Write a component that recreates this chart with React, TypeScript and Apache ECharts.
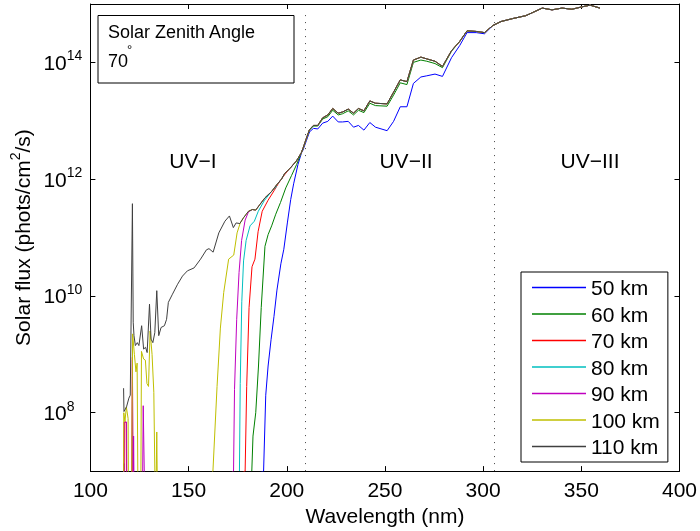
import React, { useEffect, useRef } from "react";
import * as echarts from "echarts";

// ---- data (log10 of solar flux, phots/cm^2/s) ----
const altitudes = ["50 km", "60 km", "70 km", "80 km", "90 km", "100 km", "110 km"];
const lineColors = ["#0000ff", "#008000", "#ff0000", "#00bfbf", "#bf00bf", "#bfbf00", "#404040"];
const yTickExponents = [8, 10, 12, 14];
const regionLabels = ["UV\u2212I", "UV\u2212II", "UV\u2212III"];
const regionBoundaries = [209.3, 305.7];

// upper envelope of UV-I (all altitudes converge)
const wavelengthUV1Top = [176.1, 178.0, 180.5, 182.5, 184.2, 186.4, 188.9, 192.3, 194.8, 197.3, 199.0, 201.5, 204.9, 207.4];
const logFluxUV1Top = [11.24, 11.34, 11.45, 11.48, 11.47, 11.57, 11.68, 11.79, 11.9, 12.0, 12.1, 12.18, 12.31, 12.45];

// UV-II / UV-III
const wavelengthUV2 = [208.3, 210.0, 211.6, 213.6, 215.8, 218.3, 220.9, 223.4, 226.2, 228.4, 231.3, 234.0, 236.5, 239.3, 242.3, 245.2, 251.1, 254.4, 257.8, 261.2, 264.5, 268.3, 271.3, 275.5, 279.3, 283.9, 288.1, 291.8, 296.5, 300.7, 304.9, 309.1, 315.0, 321.7, 325.0, 330.1, 335.1, 340.2, 345.2, 350.2, 354.5, 359.5];
const logFluxTopUV2 = [12.53, 12.7, 12.85, 12.92, 12.92, 13.05, 13.1, 13.21, 13.13, 13.15, 13.2, 13.13, 13.21, 13.17, 13.34, 13.3, 13.29, 13.49, 13.7, 13.67, 14.04, 14.09, 14.06, 14.02, 13.93, 14.2, 14.36, 14.54, 14.53, 14.51, 14.63, 14.7, 14.75, 14.8, 14.85, 14.93, 14.9, 14.93, 14.91, 14.95, 14.98, 14.93];
const logFlux60UV2 = [12.52, 12.69, 12.84, 12.91, 12.91, 13.03, 13.07, 13.18, 13.1, 13.12, 13.17, 13.1, 13.18, 13.14, 13.3, 13.26, 13.25, 13.44, 13.65, 13.62, 14.0, 14.04, 14.02, 13.98, 13.91, 14.19, 14.36, 14.54, 14.53, 14.51, 14.63, 14.7, 14.75, 14.8, 14.85, 14.93, 14.9, 14.93, 14.91, 14.95, 14.98, 14.93];
const logFlux50UV2 = [12.5, 12.66, 12.81, 12.87, 12.86, 12.96, 12.99, 13.08, 12.98, 12.98, 12.99, 12.89, 12.92, 12.84, 12.97, 12.89, 12.83, 12.99, 13.24, 13.24, 13.64, 13.75, 13.77, 13.8, 13.76, 14.08, 14.29, 14.51, 14.51, 14.49, 14.63, 14.7, 14.75, 14.8, 14.85, 14.93, 14.9, 14.93, 14.91, 14.95, 14.98, 14.93];

// UV-I individual parts [wavelength, log10 flux]
const low50 = [[116.8, 6], [117.0, 7.13], [117.2, 6], [188.2, 7.0], [189.3, 8.3], [190.5, 8.8], [192.0, 9.25], [193.5, 9.65], [195.0, 10.1], [197.0, 10.55], [198.5, 10.8], [200.3, 11.25], [202.0, 11.65], [203.5, 11.92], [205.7, 12.25], [207.5, 12.45]];
const low60 = [[182.2, 7.0], [182.8, 7.6], [184.2, 8.0], [185.6, 8.8], [187.0, 9.8], [188.9, 10.85], [190.5, 11.05], [192.3, 11.2], [194.4, 11.4], [196.8, 11.6], [199.5, 11.85], [202.4, 12.06], [205.0, 12.25]];
const low70 = [[117.0, 6], [117.3, 7.84], [118.2, 7.84], [118.5, 6], [121.0, 6], [121.4, 8.95], [121.7, 6], [178.8, 7.0], [179.6, 8.45], [180.8, 9.8], [182.3, 10.5], [183.8, 10.63], [185.4, 11.1], [187.5, 11.45], [190.5, 11.64], [193.5, 11.8], [195.8, 11.93], [199.0, 12.08]];
const low80 = [[175.9, 7.0], [176.3, 8.5], [177.1, 9.9], [178.0, 10.6], [179.3, 10.95], [181.3, 11.2], [183.5, 11.28], [185.5, 11.45], [188.5, 11.63], [192.0, 11.78], [194.5, 11.86]];
const low90 = [[116.9, 6], [117.2, 7.84], [118.4, 7.84], [118.7, 6], [121.1, 6], [121.4, 8.9], [121.8, 6], [122.0, 7.6], [122.4, 6], [126.4, 6], [126.9, 8.12], [127.9, 6], [172.9, 7.0], [173.4, 8.4], [174.5, 9.6], [175.7, 10.4], [177.0, 10.95], [178.8, 11.3], [180.5, 11.44]];
const low100 = [[116.8, 6], [117.0, 8.0], [117.6, 7.85], [118.3, 8.1], [119.2, 7.9], [119.5, 6], [120.9, 6], [121.5, 9.35], [122.4, 9.0], [123.2, 8.7], [123.8, 8.85], [124.3, 6], [125.6, 6], [126.0, 9.05], [127.1, 8.92], [128.0, 8.9], [128.8, 8.5], [129.6, 8.45], [130.4, 9.4], [131.4, 9.0], [132.3, 8.35], [133.2, 6], [133.8, 7.67], [134.3, 6], [162.4, 7.0], [164.5, 8.45], [166.2, 9.45], [167.9, 10.06], [170.4, 10.63], [173.0, 10.7], [174.7, 11.08], [176.3, 11.25]];
const low110 = [[116.9, 8.42], [117.1, 8.02], [118.4, 8.1], [119.6, 8.25], [120.3, 8.3], [121.4, 11.58], [121.8, 9.55], [122.2, 9.32], [122.9, 9.15], [123.9, 9.2], [124.7, 9.15], [126.1, 9.49], [127.1, 9.09], [128.1, 9.12], [128.9, 9.03], [130.1, 9.86], [130.9, 9.26], [131.8, 9.2], [132.8, 9.37], [133.8, 10.09], [134.8, 9.32], [136.0, 9.46], [137.7, 9.49], [138.8, 9.6], [139.7, 9.89], [141.8, 10.03], [144.4, 10.2], [146.9, 10.34], [149.4, 10.43], [152.8, 10.48], [156.1, 10.63], [159.1, 10.79], [160.4, 10.81], [162.5, 10.75], [165.4, 11.08], [168.5, 11.28], [170.8, 11.37], [172.8, 11.17], [174.2, 11.25]];

const FONT = "'Liberation Sans', Arial, Helvetica, sans-serif";

function buildSeriesData(low: number[][], useEnvelope: boolean, upper: number[]) {
  const lastLow = low[low.length - 1][0];
  const env = useEnvelope
    ? wavelengthUV1Top.map((w, i) => [w, logFluxUV1Top[i]]).filter((p) => p[0] > lastLow)
    : [];
  const up = wavelengthUV2.map((w, i) => [w, upper[i]]);
  return [...low, ...env, ...up];
}

export default function App() {
  const ref = useRef<HTMLDivElement>(null);
  useEffect(() => {
    if (!ref.current) return;
    const chart = echarts.init(ref.current, null, { renderer: "svg" });
    const seriesData = [
      buildSeriesData(low50, false, logFlux50UV2),
      buildSeriesData(low60, true, logFlux60UV2),
      buildSeriesData(low70, true, logFluxTopUV2),
      buildSeriesData(low80, true, logFluxTopUV2),
      buildSeriesData(low90, true, logFluxTopUV2),
      buildSeriesData(low100, true, logFluxTopUV2),
      buildSeriesData(low110, true, logFluxTopUV2),
    ];
    const axisLine = { show: true, lineStyle: { color: "#000", width: 1 } };
    const axisTick = { show: true, inside: true, length: 5, lineStyle: { color: "#000", width: 1 } };
    const series: any[] = altitudes.map((name, i) => ({
      name,
      type: "line",
      data: seriesData[i],
      symbol: "none",
      showSymbol: false,
      clip: true,
      color: lineColors[i],
      itemStyle: { color: lineColors[i] },
      lineStyle: { color: lineColors[i], width: 1 },
      z: 2 + i,
    }));
    series[0].markLine = {
      silent: true,
      symbol: ["none", "none"],
      label: { show: false },
      lineStyle: { color: "#444", width: 1, type: [1, 6] },
      data: regionBoundaries.map((b) => [{ coord: [b, 7] }, { coord: [b, 14.82] }]),
    };
    const yLabelFormatter = (v: number) =>
      yTickExponents.indexOf(Math.round(v)) >= 0 && Math.abs(v - Math.round(v)) < 1e-6
        ? `{b|10}{s|${Math.round(v)}}`
        : "";
    const option: any = {
      animation: false,
      textStyle: { fontFamily: FONT },
      grid: { left: 87, right: 18, top: 4, bottom: 59, containLabel: false },
      xAxis: [
        {
          type: "value",
          min: 100,
          max: 400,
          interval: 50,
          position: "bottom",
          axisLine,
          axisTick,
          splitLine: { show: false },
          axisLabel: { color: "#000", fontSize: 21, fontFamily: FONT, margin: 8 },
          name: "Wavelength (nm)",
          nameLocation: "middle",
          nameGap: 33,
          nameTextStyle: { color: "#000", fontSize: 21, fontFamily: FONT },
        },
        {
          type: "value",
          min: 100,
          max: 400,
          interval: 50,
          position: "top",
          axisLine,
          axisTick,
          splitLine: { show: false },
          axisLabel: { show: false },
        },
      ],
      yAxis: [
        {
          type: "value",
          min: 7,
          max: 15,
          splitNumber: 4,
          position: "left",
          axisLine,
          axisTick,
          splitLine: { show: false },
          axisLabel: {
            color: "#000",
            fontFamily: FONT,
            formatter: yLabelFormatter,
            align: "left",
            margin: 47,
            rich: {
              b: { fontSize: 21, fontFamily: FONT, color: "#000" },
              s: { fontSize: 14, fontFamily: FONT, color: "#000", padding: [0, 0, 14, 0] },
            },
          },
          name: "Solar flux (phots/cm{s|2}/s)",
          nameLocation: "middle",
          nameGap: 52,
          nameRotate: 90,
          nameTextStyle: {
            color: "#000",
            fontSize: 21,
            fontFamily: FONT,
            rich: { s: { fontSize: 14, fontFamily: FONT, color: "#000", padding: [0, 0, 14, 0] } },
          },
        },
        {
          type: "value",
          min: 7,
          max: 15,
          splitNumber: 4,
          position: "right",
          axisLine,
          axisTick,
          splitLine: { show: false },
          axisLabel: { show: false },
        },
      ],
      legend: {
        orient: "vertical",
        left: 521,
        top: 272,
        data: altitudes,
        icon: "rect",
        itemWidth: 54,
        itemHeight: 1.5,
        itemGap: 5.5,
        padding: [5, 8, 5, 11],
        borderColor: "#000",
        borderWidth: 1,
        backgroundColor: "#fff",
        textStyle: { color: "#000", fontSize: 21, fontFamily: FONT, height: 21, lineHeight: 21 },
      },
      graphic: [
        {
          type: "rect",
          shape: { x: 98, y: 15.5, width: 196, height: 67.5 },
          style: { fill: "#fff", stroke: "#000", lineWidth: 1 },
          z: 100,
        },
        {
          type: "text",
          x: 108,
          y: 32,
          style: { text: "Solar Zenith Angle", fontSize: 18, fontFamily: FONT, fill: "#000", verticalAlign: "middle" },
          z: 101,
        },
        {
          type: "text",
          x: 108,
          y: 61,
          style: { text: "70", fontSize: 18, fontFamily: FONT, fill: "#000", verticalAlign: "middle" },
          z: 101,
        },
        {
          type: "text",
          x: 127,
          y: 49,
          style: { text: "\u00b0", fontSize: 13, fontFamily: FONT, fill: "#000", verticalAlign: "middle" },
          z: 101,
        },
        ...regionLabels.map((t, i) => ({
          type: "text",
          x: [193, 406, 590][i],
          y: 160,
          style: { text: t, fontSize: 21, fontFamily: FONT, fill: "#000", align: "center", verticalAlign: "middle" },
          z: 50,
        })),
      ],
      series,
    };
    chart.setOption(option);
    return () => chart.dispose();
  }, []);
  return <div ref={ref} style={{ position: "fixed", left: 0, top: 0, width: 700, height: 531 }} />;
}
